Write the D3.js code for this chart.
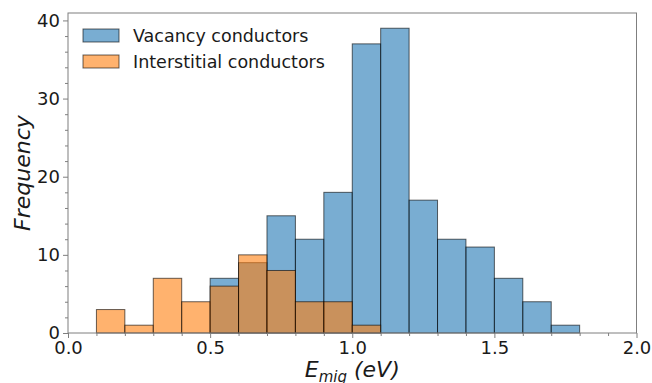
<!DOCTYPE html>
<html>
<head>
<meta charset="utf-8">
<script src="https://cdn.jsdelivr.net/npm/d3@7"></script>
<style>
    html, body { margin: 0; padding: 0; background: #fff; }
    svg { display: block; font-family: "DejaVu Sans", sans-serif; }
</style>
</head>
<body>
<svg id="chart" width="652" height="383"></svg>
<script>
// histogram bins (left edges, width 0.1 eV)
const binStarts = [0.1, 0.2, 0.3, 0.4, 0.5, 0.6, 0.7, 0.8, 0.9, 1.0, 1.1, 1.2, 1.3, 1.4, 1.5, 1.6, 1.7];
const binWidth = 0.1;
const vacancyCounts =      [0, 0, 0, 0, 7, 9, 15, 12, 18, 37, 39, 17, 12, 11, 7, 4, 1];
const interstitialCounts = [3, 1, 7, 4, 6, 10, 8, 4, 4, 1, 0, 0, 0, 0, 0, 0, 0];
const seriesNames = ['Vacancy conductors', 'Interstitial conductors'];
const seriesColors = ['#1f77b4', '#ff7f0e'];
const xTicks = [0.0, 0.5, 1.0, 1.5, 2.0];
const yTicks = [0, 10, 20, 30, 40];

const svg = d3.select('#chart');
const margin = {left: 68, right: 15.5, top: 13, bottom: 50};
const width = 652, height = 383;

const x = d3.scaleLinear()
    .domain([0, 2.0])
    .range([margin.left, width - margin.right]);
const y = d3.scaleLinear()
    .domain([0, 40.95])
    .range([height - margin.bottom, margin.top]);

function renderBars(counts, color, name) {
    const g = svg.append('g').attr('class', name);
    g.selectAll('rect')
        .data(binStarts.map((s, i) => ({s, c: counts[i]})).filter(d => d.c > 0))
        .enter()
        .append('rect')
        .attr('x', d => x(d.s))
        .attr('y', d => y(d.c))
        .attr('width', d => x(d.s + binWidth) - x(d.s))
        .attr('height', d => y(0) - y(d.c))
        .attr('fill', color)
        .attr('fill-opacity', 0.6)
        .attr('stroke', '#000')
        .attr('stroke-opacity', 0.6)
        .attr('stroke-width', 1);
}

renderBars(vacancyCounts, seriesColors[0], 'vacancy');
renderBars(interstitialCounts, seriesColors[1], 'interstitial');

// axes
const axisColor = '#7f7f7f';
const xAxisG = svg.append('g')
    .attr('transform', `translate(0, ${y(0)})`)
    .call(d3.axisBottom(x).tickValues(xTicks).tickFormat(d3.format('.1f')).tickSize(5).tickPadding(3))
    .call(g => g.select('.domain').remove());
const xMinor = svg.append('g')
    .attr('transform', `translate(0, ${y(0)})`)
    .call(d3.axisBottom(x).tickValues(d3.range(0, 21).map(i => i / 10).filter(v => !xTicks.some(t => Math.abs(t - v) < 1e-9))).tickFormat('').tickSize(3))
    .call(g => g.select('.domain').remove());

const yAxisG = svg.append('g')
    .attr('transform', `translate(${x(0)}, 0)`)
    .call(d3.axisLeft(y).tickValues(yTicks).tickSize(5).tickPadding(3))
    .call(g => g.select('.domain').remove());
const yMinor = svg.append('g')
    .attr('transform', `translate(${x(0)}, 0)`)
    .call(d3.axisLeft(y).tickValues(d3.range(0, 41, 2).filter(v => v % 10 !== 0)).tickFormat('').tickSize(3))
    .call(g => g.select('.domain').remove());

[xAxisG, xMinor, yAxisG, yMinor].forEach(g => {
    g.selectAll('line').attr('stroke', axisColor);
    g.selectAll('text').attr('fill', '#1a1a1a').style('font-size', '18px').style('font-family', '"DejaVu Sans", sans-serif');
});

// frame
svg.append('rect')
    .attr('x', x(0)).attr('y', margin.top)
    .attr('width', x(2) - x(0)).attr('height', y(0) - margin.top)
    .attr('fill', 'none').attr('stroke', axisColor).attr('stroke-width', 1);

// axis labels
svg.append('text')
    .attr('transform', `translate(30, ${(margin.top + y(0)) / 2}) rotate(-90)`)
    .attr('text-anchor', 'middle')
    .style('font-size', '22px').style('font-style', 'italic')
    .attr('fill', '#1a1a1a')
    .text('Frequency');

const xl = svg.append('text')
    .attr('x', (x(0) + x(2)) / 2)
    .attr('y', 377)
    .attr('text-anchor', 'middle')
    .style('font-size', '22px').style('font-style', 'italic')
    .attr('fill', '#1a1a1a');
xl.append('tspan').text('E');
xl.append('tspan').attr('dy', 5).style('font-size', '15px').text('mig');
xl.append('tspan').attr('dy', -5).text(' (eV)');

// legend
const legend = svg.append('g').attr('transform', 'translate(83, 29)');
seriesNames.forEach((name, i) => {
    const row = legend.append('g').attr('transform', `translate(0, ${i * 26})`);
    row.append('rect')
        .attr('width', 36).attr('height', 13)
        .attr('fill', seriesColors[i]).attr('fill-opacity', 0.6)
        .attr('stroke', '#000').attr('stroke-opacity', 0.6);
    row.append('text')
        .attr('x', 50).attr('y', 7).attr('dy', '0.35em')
        .style('font-size', '17.5px')
        .attr('fill', '#1a1a1a')
        .text(name);
});
</script>
</body>
</html>
